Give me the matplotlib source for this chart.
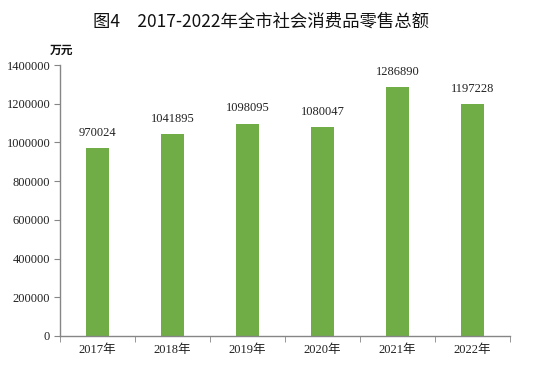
import matplotlib.pyplot as plt
import numpy as np
from matplotlib.ticker import FixedLocator

years = ["2017年", "2018年", "2019年", "2020年", "2021年", "2022年"]
values = [970024, 1041895, 1098095, 1080047, 1286890, 1197228]
yticks = [0, 200000, 400000, 600000, 800000, 1000000, 1200000, 1400000]

fam = ['Liberation Serif', 'Noto Sans CJK SC']
fig = plt.figure(figsize=(5.5, 3.72), dpi=100)
ax = fig.add_axes([0.109, 0.097, 0.818, 0.728])
x = np.arange(len(years))
ax.bar(x, values, width=0.31, color='#70AD47', zorder=2)
for xi, v in zip(x, values):
    ax.annotate(str(v), (xi, v), xytext=(0, 6.5), textcoords='offset points',
                ha='center', va='bottom', fontsize=9, family=fam, color='#222222')
ax.set_xlim(-0.5, len(years) - 0.5)
ax.set_ylim(0, 1400000)
ax.set_yticks(yticks)
ax.set_yticklabels([str(t) for t in yticks], family=fam, fontsize=9, color='#222222')
ax.set_xticks(x)
ax.set_xticklabels(years, family=fam, fontsize=9, color='#222222')
ax.tick_params(axis='x', which='major', length=0, pad=6)
ax.xaxis.set_minor_locator(FixedLocator(np.arange(-0.5, len(years), 1.0)))
ax.tick_params(axis='x', which='minor', length=4, color='#868686', direction='out')
ax.tick_params(axis='y', length=4, color='#868686', direction='out', pad=3)
for s in ['top', 'right']:
    ax.spines[s].set_visible(False)
for s in ['left', 'bottom']:
    ax.spines[s].set_color('#868686')
    ax.spines[s].set_linewidth(1)

fig.text(0.475, 0.943, "图4　2017-2022年全市社会消费品零售总额", ha='center', va='center',
         fontsize=12.5, fontweight='medium', family=['Noto Sans CJK SC', 'DejaVu Sans'], color='#111111')
fig.text(0.111, 0.865, "万元", ha='center', va='center', fontsize=8.5, fontweight='bold',
         family=['Noto Sans CJK SC', 'DejaVu Sans'], color='#111111')
fig.savefig('out.png', dpi=100)
